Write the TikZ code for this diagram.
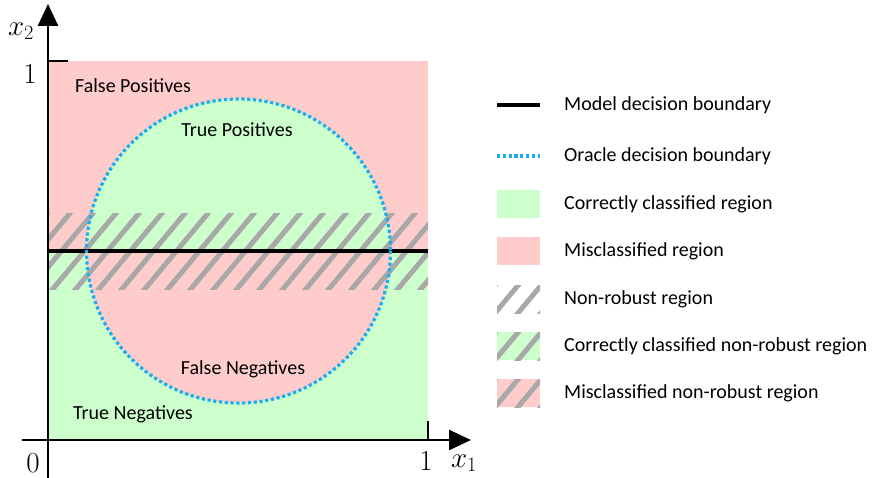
\RequirePackage{fix-cm}
\documentclass[tikz,border=0pt]{standalone}
\usepackage{fontspec}
\setmainfont{Carlito}
\usetikzlibrary{arrows.meta}
\definecolor{mypink}{HTML}{FFCCCC}
\definecolor{mygreen}{HTML}{CCFFCC}
\definecolor{mygray}{HTML}{A8A8A8}
\definecolor{myblue}{HTML}{1AAEEF}
\newcommand\myhatch[4]{%
  \begin{scope}
    \clip (#1,#2) rectangle (#3,#4);
    \foreach \k in {0,23,...,560} \draw[hatchline] (#1,#2) ++(\k,-2) -- ++(-100,120);
  \end{scope}}
\begin{document}
\begin{tikzpicture}[x=1pt,y=-1pt,
  lbl/.style={font=\fontsize{20}{23}\selectfont, inner sep=0pt},
  mlbl/.style={font=\fontsize{29}{33}\selectfont, inner sep=0pt},
  hatchline/.style={draw=mygray, line width=5pt},
  model/.style={line width=4.5pt, black},
  oracle/.style={myblue, line width=3.2pt, dash pattern=on 3.2pt off 2.6pt},
  axis/.style={line width=2.6pt, -{Triangle[length=22pt,width=20pt]}}]
\useasboundingbox (0,0) rectangle (872,478);
% regions
\fill[mypink] (48,61) rectangle (428,440);
\begin{scope}
  \clip (48,61) rectangle (428,251);
  \fill[mygreen] (238.5,251) circle (152);
\end{scope}
\begin{scope}
  \clip (48,251) rectangle (428,440);
  \fill[mygreen] (48,251) rectangle (428,440);
  \fill[mypink] (238.5,251) circle (152);
\end{scope}
\myhatch{48}{214}{428}{289}
\draw[model] (48,251) -- (428,251);
\draw[oracle] (238.5,251) circle (152);
% axes
\draw[axis] (48,478) -- (48,4);
\draw[axis] (22,440) -- (471,440);
\draw[line width=1.3pt] (48,61) -- (68,61);
\draw[line width=1.3pt] (428,421) -- (428,440);
\node[mlbl] (y1) at (30,74) {$1$};
\node[mlbl] (y2) at (21,31) {$x_2$};
\node[mlbl] (o) at (33,463) {$0$};
\node[mlbl] (x1) at (426,461) {$1$};
\node[mlbl] (x2) at (464,463) {$x_1$};
% region labels
\node[lbl] (fp) at (133,86) {False Positives};
\node[lbl] (tp) at (237,130) {True Positives};
\node[lbl] (fn) at (243,369) {False Negatives};
\node[lbl] (tn) at (133,414) {True Negatives};
% legend
\draw[model] (497,105) -- (540,105);
\draw[oracle] (497,156) -- (540,156);
\fill[mygreen] (497,190) rectangle (540,218);
\fill[mypink] (497,237) rectangle (540,265);
\myhatch{497}{285}{540}{313}
\fill[mygreen] (497,332) rectangle (540,360);
\myhatch{497}{332}{540}{360}
\fill[mypink] (497,379) rectangle (540,407);
\myhatch{497}{379}{540}{407}
\node[lbl, anchor=west] (l1) at (564,105) {Model decision boundary};
\node[lbl, anchor=west] (l2) at (564,156) {Oracle decision boundary};
\node[lbl, anchor=west] (l3) at (564,204) {Correctly classified region};
\node[lbl, anchor=west] (l4) at (564,251) {Misclassified region};
\node[lbl, anchor=west] (l5) at (564,299) {Non-robust region};
\node[lbl, anchor=west] (l6) at (564,346) {Correctly classified non-robust region};
\node[lbl, anchor=west] (l7) at (564,393) {Misclassified non-robust region};
\end{tikzpicture}
\end{document}
